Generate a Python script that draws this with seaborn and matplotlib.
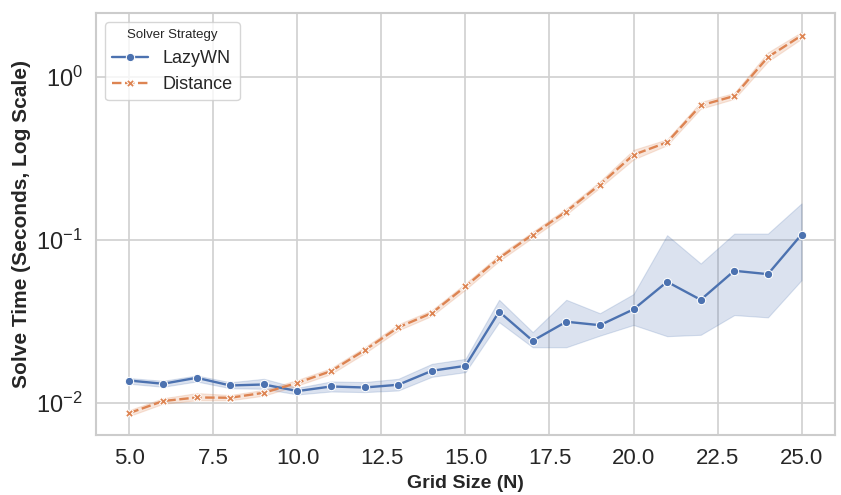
import pandas as pd
import matplotlib
matplotlib.use("Agg")
import matplotlib.pyplot as plt
from matplotlib import font_manager
import seaborn as sns


# Data


grid_size = [5, 6, 7, 8, 9, 10, 11, 12, 13, 14, 15, 16, 17, 18, 19, 20, 21, 22, 23, 24, 25]

lazy_mean = [0.01368, 0.01307, 0.01422, 0.01276, 0.01294, 0.01179, 0.01258, 0.01240, 0.01289, 0.01570,
             0.01684, 0.0362, 0.0240, 0.0314, 0.0299, 0.0374, 0.0552, 0.0428, 0.0645, 0.0615, 0.1076]
lazy_lo = [0.01307, 0.01253, 0.01350, 0.01227, 0.01218, 0.01124, 0.01172, 0.01162, 0.01189, 0.01442,
           0.01541, 0.0312, 0.0219, 0.0219, 0.0258, 0.0300, 0.0256, 0.0261, 0.0345, 0.0334, 0.0565]
lazy_hi = [0.01416, 0.01363, 0.01469, 0.01335, 0.01402, 0.01235, 0.01350, 0.01339, 0.01402, 0.01732,
           0.01858, 0.0428, 0.0271, 0.0428, 0.0354, 0.0464, 0.1066, 0.0715, 0.1090, 0.1090, 0.1670]

dist_mean = [0.00865, 0.01024, 0.01077, 0.01073, 0.01151, 0.01325, 0.01563, 0.0210, 0.0290, 0.0355,
             0.0517, 0.0771, 0.1076, 0.149, 0.218, 0.332, 0.396, 0.667, 0.762, 1.32, 1.79]
dist_lo = [0.00830, 0.00985, 0.01035, 0.01035, 0.01105, 0.01275, 0.01500, 0.0201, 0.0278, 0.0341,
           0.0495, 0.0740, 0.1032, 0.143, 0.209, 0.311, 0.380, 0.637, 0.731, 1.24, 1.71]
dist_hi = [0.00902, 0.01065, 0.01146, 0.01115, 0.01200, 0.01380, 0.01630, 0.0219, 0.0303, 0.0370,
           0.0540, 0.0805, 0.1120, 0.1555, 0.228, 0.356, 0.413, 0.700, 0.795, 1.41, 1.88]

strategies = ["LazyWN", "Distance"]


# Long form table for seaborn


df = pd.DataFrame({
    "Grid Size (N)": grid_size + grid_size,
    "Solve Time": lazy_mean + dist_mean,
    "Solver Strategy": [strategies[0]] * len(grid_size) + [strategies[1]] * len(grid_size),
})


# Chart


sns.set_theme(style="whitegrid")
plt.rcParams["font.family"] = ["Liberation Sans", "DejaVu Sans"]
plt.rcParams["mathtext.fontset"] = "custom"
plt.rcParams["mathtext.rm"] = "Liberation Sans"
plt.rcParams["mathtext.it"] = "Liberation Sans:italic"
plt.rcParams["mathtext.bf"] = "Liberation Sans:bold"

# narrow face for the x axis texts, if it is installed
narrow = "Liberation Sans"
try:
    font_manager.findfont("Liberation Sans Narrow", fallback_to_default=False)
    narrow = "Liberation Sans Narrow"
except Exception:
    pass

palette = sns.color_palette("deep")

fig, ax = plt.subplots(figsize=(8.41, 4.95), dpi=100)

sns.lineplot(data=df, x="Grid Size (N)", y="Solve Time", hue="Solver Strategy",
             style="Solver Strategy", markers=True, errorbar=None,
             palette=palette[:2], linewidth=1.7, markersize=6, ax=ax)

ax.fill_between(grid_size, lazy_lo, lazy_hi, color=palette[0], alpha=0.2, linewidth=0.8)
ax.fill_between(grid_size, dist_lo, dist_hi, color=palette[1], alpha=0.2, linewidth=0.8)

ax.set_yscale("log")

ax.set_xlabel("Grid Size (N)", fontsize=14, fontweight="bold", family=narrow)
ax.set_ylabel("Solve Time (Seconds, Log Scale)", fontsize=15, fontweight="bold")

ax.tick_params(axis="x", labelsize=16)
ax.tick_params(axis="y", labelsize=17)

ax.grid(True, color="#d0d0d0", linewidth=1.2)
for s in ax.spines.values():
    s.set_color("#cccccc")
    s.set_linewidth(1.5)

sns.move_legend(ax, "upper left", title="Solver Strategy", fontsize=13, title_fontsize=9.5)

plt.subplots_adjust(left=0.114, right=0.993, top=0.974, bottom=0.121)

fig.canvas.draw()
for lab in ax.get_xticklabels():
    lab.set_family(narrow)

plt.savefig("out.png", dpi=100)
